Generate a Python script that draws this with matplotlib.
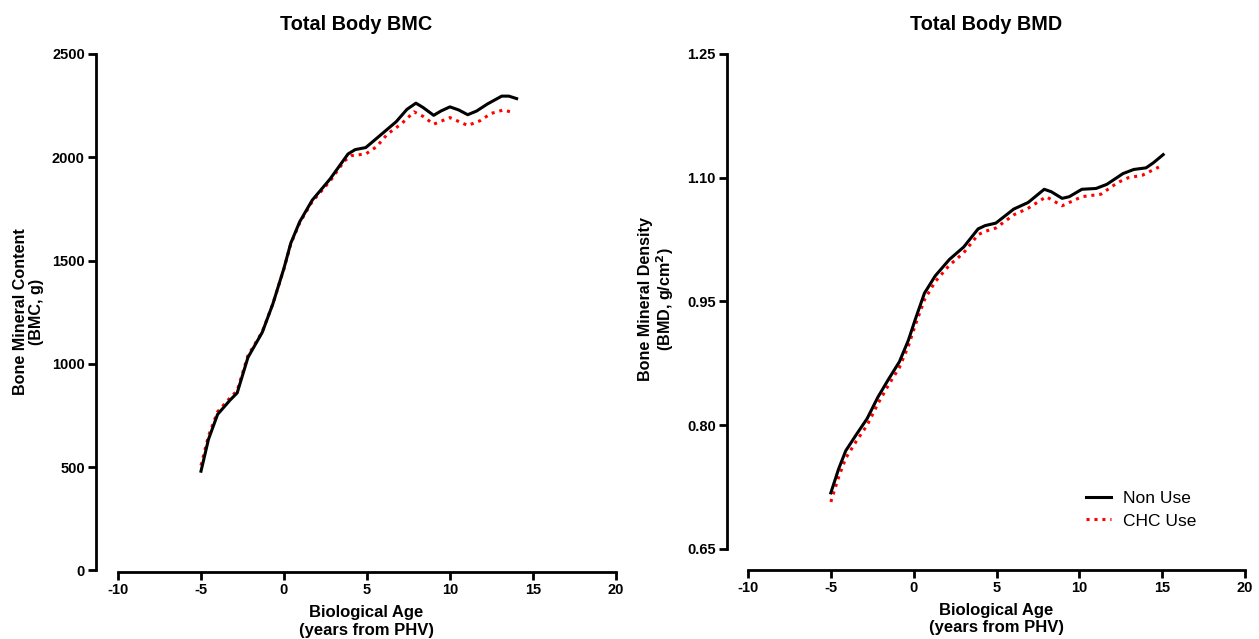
import matplotlib.pyplot as plt

plt.rcParams["font.family"] = ["Liberation Sans", "DejaVu Sans"]

# Total Body BMC (g) vs biological age (years from PHV)
bmc_age_non = [-5.0, -4.55, -4.0, -3.25, -2.82, -2.17, -1.31, -0.67, 0.0, 0.41, 0.95, 1.70,
               2.78, 3.86, 4.29, 4.93, 6.0, 6.76, 7.41, 7.95, 8.38, 9.02, 9.46, 10.0,
               10.53, 11.07, 11.61, 12.26, 13.12, 13.55, 14.02]
bmc_non = [480, 634, 755, 824, 859, 1031, 1152, 1290, 1463, 1584, 1688, 1792,
           1895, 2016, 2037, 2047, 2120, 2172, 2232, 2262, 2241, 2203, 2224, 2244,
           2229, 2206, 2224, 2258, 2296, 2296, 2284]

bmc_age_chc = [-5.0, -4.55, -4.0, -3.25, -2.82, -2.17, -1.31, -0.67, 0.0, 0.41, 0.95, 1.70,
               2.78, 3.64, 4.07, 4.93, 5.58, 6.22, 7.09, 7.84, 8.38, 9.02, 10.0,
               11.07, 11.82, 12.47, 13.22, 13.87]
bmc_chc = [508, 650, 768, 835, 870, 1040, 1155, 1290, 1460, 1580, 1683, 1785,
           1885, 1982, 2008, 2016, 2051, 2111, 2163, 2220, 2198, 2160, 2192,
           2154, 2177, 2212, 2229, 2215]

# Total Body BMD (g/cm2)
bmd_age_non = [-5.0, -4.53, -4.1, -3.45, -2.81, -2.16, -1.51, -0.86, -0.32, 0.11, 0.65, 1.30,
               2.16, 3.02, 3.89, 4.32, 4.96, 6.04, 6.91, 7.88, 8.31, 8.96, 9.39, 10.15,
               11.01, 11.66, 12.63, 13.28, 14.03, 14.46, 15.06]
bmd_non = [0.718, 0.747, 0.769, 0.789, 0.808, 0.834, 0.856, 0.877, 0.903, 0.929, 0.960, 0.981,
           1.001, 1.016, 1.038, 1.042, 1.045, 1.062, 1.070, 1.086, 1.083, 1.075, 1.077, 1.086,
           1.087, 1.092, 1.105, 1.110, 1.112, 1.118, 1.128]

bmd_age_chc = [-5.0, -4.53, -4.1, -3.45, -2.81, -2.16, -1.51, -0.86, -0.32, 0.11, 0.65, 1.30,
               2.16, 3.02, 3.89, 4.32, 4.96, 6.04, 6.91, 8.0, 8.96, 10.15, 11.3, 12.3,
               12.95, 13.8, 14.8]
bmd_chc = [0.707, 0.737, 0.760, 0.781, 0.800, 0.826, 0.849, 0.870, 0.896, 0.922, 0.952, 0.974,
           0.994, 1.009, 1.031, 1.035, 1.039, 1.055, 1.063, 1.077, 1.066, 1.077, 1.080, 1.094,
           1.100, 1.103, 1.113]

LW = 2.2
SPINE_LW = 2.0
CHC_STYLE = dict(color="red", lw=LW, linestyle=(0, (1, 1.6)))


def style_axes(ax, xlim, ylim, ybounds, yticks, ylabels):
    ax.set_xlim(*xlim)
    ax.set_ylim(*ylim)
    for s in ["top", "right"]:
        ax.spines[s].set_visible(False)
    for s in ["left", "bottom"]:
        ax.spines[s].set_linewidth(SPINE_LW)
    ax.spines["bottom"].set_bounds(-10, 20)
    ax.spines["left"].set_bounds(*ybounds)
    ax.set_xticks([-10, -5, 0, 5, 10, 15, 20])
    ax.set_xticklabels(["-10", "-5", "0", "5", "10", "15", "20"])
    ax.set_yticks(yticks)
    ax.set_yticklabels(ylabels)
    ax.tick_params(width=SPINE_LW, length=6, labelsize=10.5, pad=2)
    for lab in ax.get_xticklabels() + ax.get_yticklabels():
        lab.set_fontweight("bold")
    ax.set_xlabel("Biological Age\n(years from PHV)", fontsize=12, fontweight="bold",
                  linespacing=1.2)
    ax.xaxis.set_label_coords(0.52, -0.064, transform=ax.transAxes)
    ax.xaxis.label.set_va("top")


fig = plt.figure(figsize=(12.59, 6.39), dpi=100)

ax1 = fig.add_axes([0.0762, 0.1049, 0.4130, 0.8106])
ax1.plot(bmc_age_chc, bmc_chc, **CHC_STYLE)
ax1.plot(bmc_age_non, bmc_non, color="black", lw=LW)
style_axes(ax1, (-11.33, 20), (-8, 2500), (0, 2500),
           [0, 500, 1000, 1500, 2000, 2500], ["0", "500", "1000", "1500", "2000", "2500"])
ax1.set_title("Total Body BMC", fontsize=14.3, fontweight="bold", pad=17)
ax1.set_ylabel("Bone Mineral Content\n(BMC, g)", fontsize=11.6, fontweight="bold",
               linespacing=1.1)
ax1.yaxis.set_label_coords(-0.1, 0.502)

ax2 = fig.add_axes([0.5774, 0.108, 0.4115, 0.8075])
l2, = ax2.plot(bmd_age_chc, bmd_chc, **CHC_STYLE)
l1, = ax2.plot(bmd_age_non, bmd_non, color="black", lw=LW)
style_axes(ax2, (-11.27, 20), (0.6245, 1.25), (0.65, 1.25),
           [0.65, 0.80, 0.95, 1.10, 1.25], ["0.65", "0.80", "0.95", "1.10", "1.25"])
ax2.set_title("Total Body BMD", fontsize=14.3, fontweight="bold", pad=17)
ax2.set_ylabel("Bone Mineral Density\n(BMD, g/cm$^\\mathbf{2}$)", fontsize=11.6,
               fontweight="bold", linespacing=1.05)
ax2.yaxis.set_label_coords(-0.099, 0.525)
ax2.legend([l1, l2], ["Non Use", "CHC Use"], loc="lower right", frameon=False,
           fontsize=12.5, handlelength=1.4, handletextpad=0.7, labelspacing=0.4,
           bbox_to_anchor=(0.936, 0.05))

fig.savefig("out.png", dpi=100)
